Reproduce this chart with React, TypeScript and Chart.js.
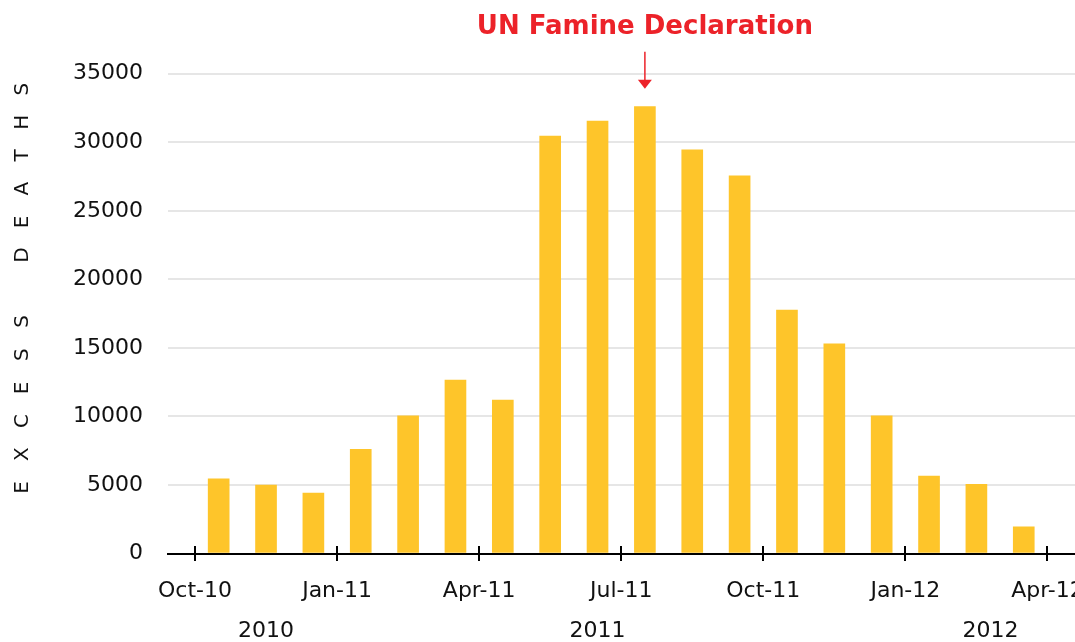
import React, { useEffect, useRef } from "react";
import { Chart, registerables } from "chart.js";

Chart.register(...registerables);

// ---- data ----
const months = [
  "Oct-10", "Nov-10", "Dec-10", "Jan-11", "Feb-11", "Mar-11", "Apr-11", "May-11", "Jun-11",
  "Jul-11", "Aug-11", "Sep-11", "Oct-11", "Nov-11", "Dec-11", "Jan-12", "Feb-12", "Mar-12",
];
const excessDeaths = [
  5450, 5000, 4400, 7600, 10050, 12650, 11200, 30450, 31550,
  32600, 29450, 27550, 17750, 15300, 10050, 5650, 5050, 1950,
];
const quarterTickLabels = ["Oct-10", "Jan-11", "Apr-11", "Jul-11", "Oct-11", "Jan-12", "Apr-12"];
const quarterTickMonthIndex = [0, 3, 6, 9, 12, 15, 18];
const yearLabels = ["2010", "2011", "2012"];
const yearLabelPositions = [1.5, 8.5, 16.8];
const yTickValues = [0, 5000, 10000, 15000, 20000, 25000, 30000, 35000];
const yAxisTitle = "EXCESS DEATHS";
const annotationText = "UN Famine Declaration";
const annotationMonth = "Jul-11";
const annotationTextValue = 38400;
const annotationArrowFrom = 36600;
const annotationArrowTo = 33900;

const X_MIN = -0.57;
const X_MAX = 19.11;
const Y_MAX = 38700;

const FONT = "'DejaVu Sans', sans-serif";
const BAR_COLOR = "#FEC52A";
const RED = "#EC2229";
const TEXT = "#111111";
const CLEAR = "rgba(0,0,0,0)";

const extrasPlugin = {
  id: "extras",
  afterDraw(chart: any) {
    const { ctx, chartArea } = chart;
    const xs = chart.scales.x;
    const ys = chart.scales.y;
    ctx.save();
    // tick marks crossing the axis
    ctx.strokeStyle = "#000";
    ctx.lineWidth = 2;
    const yAxis = Math.round(chartArea.bottom);
    xs.ticks.forEach((t: any) => {
      const px = Math.round(xs.getPixelForValue(t.value));
      ctx.beginPath();
      ctx.moveTo(px, yAxis - 8);
      ctx.lineTo(px, yAxis + 7);
      ctx.stroke();
    });
    // y axis title, spaced letters
    const cy = (chartArea.top + chartArea.bottom) / 2;
    ctx.translate(23, cy);
    ctx.rotate(-Math.PI / 2);
    ctx.font = `20px ${FONT}`;
    ctx.fillStyle = TEXT;
    ctx.textAlign = "center";
    ctx.textBaseline = "middle";
    const pitch = 33.2;
    const chars = yAxisTitle.split("");
    const mid = (chars.length - 1) / 2;
    chars.forEach((c, k) => {
      if (c !== " ") ctx.fillText(c, (k - mid) * pitch, 0);
    });
    ctx.restore();

    // annotation
    ctx.save();
    const ax = xs.getPixelForValue(months.indexOf(annotationMonth) + 0.5);
    ctx.font = `bold 26px ${FONT}`;
    ctx.fillStyle = RED;
    ctx.textAlign = "center";
    ctx.textBaseline = "middle";
    ctx.fillText(annotationText, ax, ys.getPixelForValue(annotationTextValue));
    const y1 = ys.getPixelForValue(annotationArrowFrom);
    const y2 = ys.getPixelForValue(annotationArrowTo);
    ctx.strokeStyle = RED;
    ctx.lineWidth = 1.5;
    ctx.beginPath();
    ctx.moveTo(ax, y1);
    ctx.lineTo(ax, y2 - 8);
    ctx.stroke();
    ctx.beginPath();
    ctx.moveTo(ax - 7, y2 - 9);
    ctx.lineTo(ax + 7, y2 - 9);
    ctx.lineTo(ax, y2);
    ctx.closePath();
    ctx.fill();
    ctx.restore();
  },
};

export default function App() {
  const ref = useRef<HTMLCanvasElement>(null);
  useEffect(() => {
    const chart = new Chart(ref.current!, {
      type: "bar",
      data: {
        datasets: [
          {
            label: "Excess deaths",
            data: excessDeaths.map((v, i) => ({ x: i + 0.5, y: v })),
            backgroundColor: BAR_COLOR,
            borderWidth: 0,
            barThickness: 21,
          },
        ],
      },
      options: {
        responsive: false,
        animation: false,
        layout: { padding: { top: 23, right: 10, left: 0, bottom: 0 } },
        plugins: { legend: { display: false }, tooltip: { enabled: false }, title: { display: false } },
        scales: {
          x: {
            type: "linear",
            min: X_MIN,
            max: X_MAX,
            offset: false,
            bounds: "data",
            afterBuildTicks: (s: any) => {
              s.ticks = quarterTickMonthIndex.map((v) => ({ value: v }));
            },
            grid: {
              display: true,
              drawOnChartArea: false,
              drawTicks: true,
              tickLength: 25,
              tickColor: CLEAR,
              color: CLEAR,
              offset: false,
            },
            border: { display: true, color: "#000", width: 2 },
            ticks: {
              autoSkip: false,
              maxRotation: 0,
              minRotation: 0,
              padding: 0,
              color: TEXT,
              font: { family: FONT, size: 22 },
              callback: (_v: any, i: number) => quarterTickLabels[i],
            },
            afterFit: (s: any) => {
              s.height = 56;
            },
          },
          x2: {
            type: "linear",
            position: "bottom",
            weight: 1,
            min: X_MIN,
            max: X_MAX,
            offset: false,
            bounds: "data",
            afterBuildTicks: (s: any) => {
              s.ticks = yearLabelPositions.map((v) => ({ value: v }));
            },
            grid: { display: false, drawTicks: true, tickLength: 9, tickColor: CLEAR },
            border: { display: false },
            ticks: {
              autoSkip: false,
              maxRotation: 0,
              minRotation: 0,
              padding: 0,
              color: TEXT,
              font: { family: FONT, size: 22 },
              callback: (_v: any, i: number) => yearLabels[i],
            },
            afterFit: (s: any) => {
              s.height = 32.5;
            },
          },
          y: {
            type: "linear",
            min: 0,
            max: Y_MAX,
            bounds: "data",
            afterBuildTicks: (s: any) => {
              s.ticks = yTickValues.map((v) => ({ value: v }));
            },
            grid: { color: "#e6e6e6", lineWidth: 2, drawTicks: true, tickLength: 25, tickColor: CLEAR },
            border: { display: false },
            ticks: {
              padding: 0,
              color: TEXT,
              font: { family: FONT, size: 22 },
              callback: (v: any) => String(v),
            },
            afterFit: (s: any) => {
              s.width = 168;
            },
          },
        },
      } as any,
      plugins: [extrasPlugin],
    });
    return () => chart.destroy();
  }, []);
  return (
    <div
      style={{
        position: "fixed",
        left: 0,
        top: 0,
        width: 1075,
        height: 642,
        overflow: "hidden",
        background: "#fff",
      }}
    >
      <canvas ref={ref} width={1110} height={642} style={{ display: "block", width: 1110, height: 642 }} />
    </div>
  );
}
